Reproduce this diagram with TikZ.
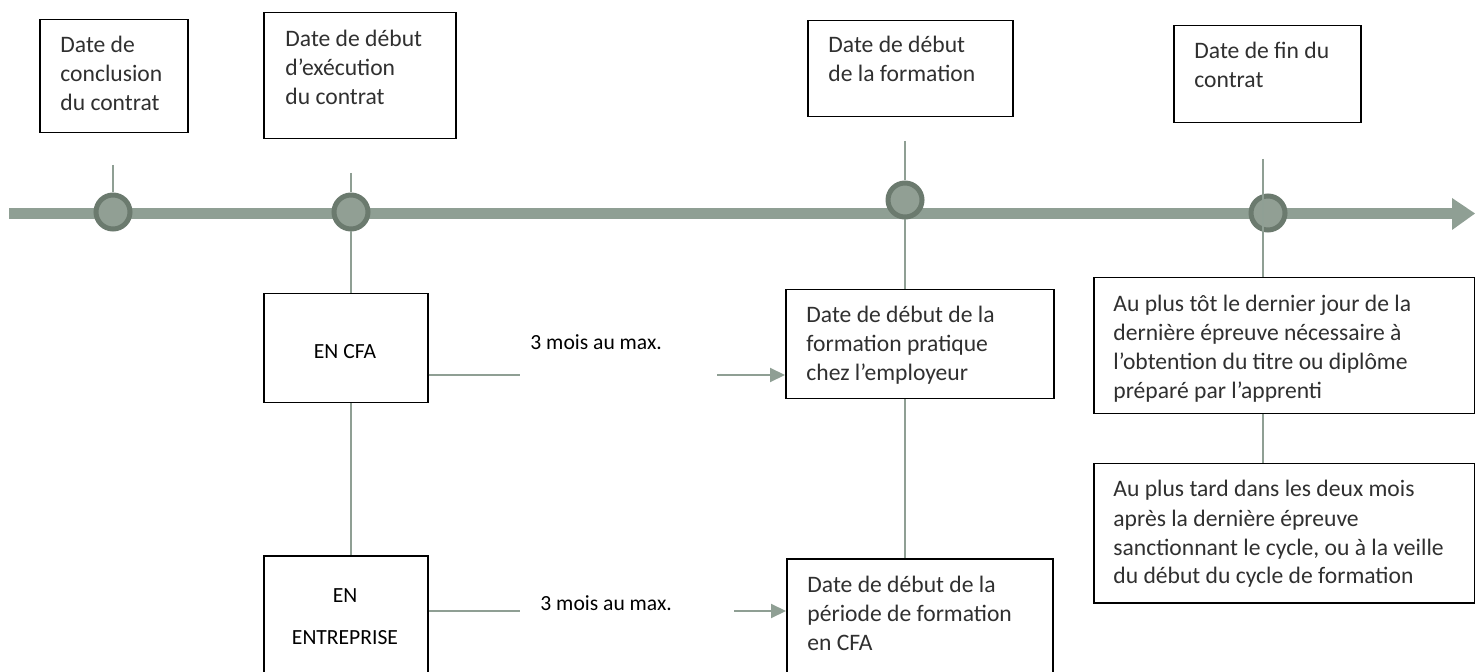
\documentclass[tikz,border=0pt]{standalone}
\usepackage{fontspec}
\setmainfont{Carlito}
\usetikzlibrary{arrows.meta}
\definecolor{axisgreen}{HTML}{8F9F94}
\definecolor{dotrim}{HTML}{6B7A6E}
\definecolor{dotfill}{HTML}{919F94}
\definecolor{lighttext}{HTML}{303030}
\newcommand{\ml}[1]{\begin{tabular}[t]{@{}l@{}}#1\end{tabular}}
\newcommand{\mc}[1]{\begin{tabular}[t]{@{}c@{}}#1\end{tabular}}
\tikzset{
  bx/.style={draw=black, line width=0.75pt, fill=white, inner sep=0pt, anchor=north west},
  lt/.style={anchor=base west, inner sep=0pt, text=lighttext, font=\fontsize{11.8pt}{14.5pt}\selectfont},
  rt/.style={inner sep=0pt, text=black, font=\fontsize{10.8pt}{21pt}\selectfont},
  dot/.style={circle, draw=dotrim, fill=dotfill, line width=2.5pt, minimum size=17pt, inner sep=0pt},
  conn/.style={draw=axisgreen, line width=1pt},
  arr/.style={conn, -{Triangle[length=7.5pt,width=7pt]}},
}
\begin{document}
\begin{tikzpicture}[x=0.5pt,y=-0.5pt]
\useasboundingbox (0,0) rectangle (1475,672);

% axis
\coordinate (t0) at (9,213.5);
\coordinate (t1) at (1452,213.5);
\draw[axisgreen, line width=5.5pt] (t0) -- (t1);
\fill[axisgreen] (1452,198) -- (1475,213.5) -- (1452,230) -- cycle;

% boxes
\node[bx, minimum width=74pt, minimum height=56.5pt] (b1) at (39,19) {};
\node[bx, minimum width=96pt, minimum height=63pt] (b2) at (263,12) {};
\node[bx, minimum width=102.5pt, minimum height=48pt] (b3) at (807,20) {};
\node[bx, minimum width=93.5pt, minimum height=48.5pt] (b4) at (1173,25) {};
\node[bx, minimum width=82pt, minimum height=54.5pt] (cfa) at (263,293) {};
\node[bx, minimum width=82pt, minimum height=72.5pt] (ent) at (263,555) {};
\node[bx, minimum width=134pt, minimum height=54.5pt] (prat) at (785,289) {};
\node[bx, minimum width=133pt, minimum height=71pt] (per) at (786,558) {};
\node[bx, minimum width=190.5pt, minimum height=68pt] (ba) at (1093,277) {};
\node[bx, minimum width=190.5pt, minimum height=69.5pt] (bb) at (1093,463) {};

% dots
\node[dot] (c1) at (113,212) {};
\node[dot] (c2) at (351,212) {};
\node[dot] (c3) at (905,200) {};
\node[dot] (c4) at (1268,213) {};

% vertical connectors
\coordinate (c1top) at (113,165);
\coordinate (c2top) at (351,173);
\coordinate (c3top) at (905,141);
\coordinate (c4top) at (1263,159);
\draw[conn] (c1top) -- (c1);
\draw[conn] (c2top) -- (c2);
\draw[conn] (c2) -- (c2 |- cfa.north);
\draw[conn] (cfa.south -| c2) -- (ent.north -| c2);
\draw[conn] (c3top) -- (c3);
\draw[conn] (c3) -- (c3 |- prat.north);
\draw[conn] (prat.south -| c3) -- (per.north -| c3);
\draw[conn] (c4top) -- (c4top |- ba.north);
\draw[conn] (ba.south -| c4top) -- (bb.north -| c4top);

% horizontal connectors
\coordinate (h1) at (520,375);
\coordinate (h2) at (717,375);
\coordinate (h3) at (520,611);
\coordinate (h4) at (734,611);
\draw[conn] (cfa.east |- h1) -- (h1);
\draw[arr] (h2) -- (h2 -| prat.west);
\draw[conn] (ent.east |- h3) -- (h3);
\draw[arr] (h4) -- (h4 -| per.west);

% texts
\node[lt] (tb1) at (60,53) {\ml{Date de\\conclusion\\du contrat}};
\node[lt] (tb2) at (285,47) {\ml{Date de début\\d’exécution\\du contrat}};
\node[lt] (tb3) at (828,53) {\ml{Date de début\\de la formation}};
\node[lt] (tb4) at (1194,59) {\ml{Date de fin du\\contrat}};
\node[lt] (tprat) at (806,323) {\ml{Date de début de la\\formation pratique\\chez l’employeur}};
\node[lt] (tper) at (807,592) {\ml{Date de début de la\\période de formation\\en CFA}};
\node[lt] (tba) at (1113,312) {\ml{Au plus tôt le dernier jour de la\\dernière épreuve nécessaire à\\l’obtention du titre ou diplôme\\préparé par l'apprenti}};
\node[lt] (tbb) at (1113,497) {\ml{Au plus tard dans les deux mois\\après la dernière épreuve\\sanctionnant le cycle, ou à la veille\\du début du cycle de formation}};
\node[rt, anchor=base] (tcfa) at (345,359) {EN CFA};
\node[rt, anchor=base] (tent) at (345,602) {\mc{EN\\ENTREPRISE}};
\node[rt, anchor=base west] (m1) at (530,350) {3 mois au max.};
\node[rt, anchor=base west] (m2) at (540,610) {3 mois au max.};
\end{tikzpicture}
\end{document}
